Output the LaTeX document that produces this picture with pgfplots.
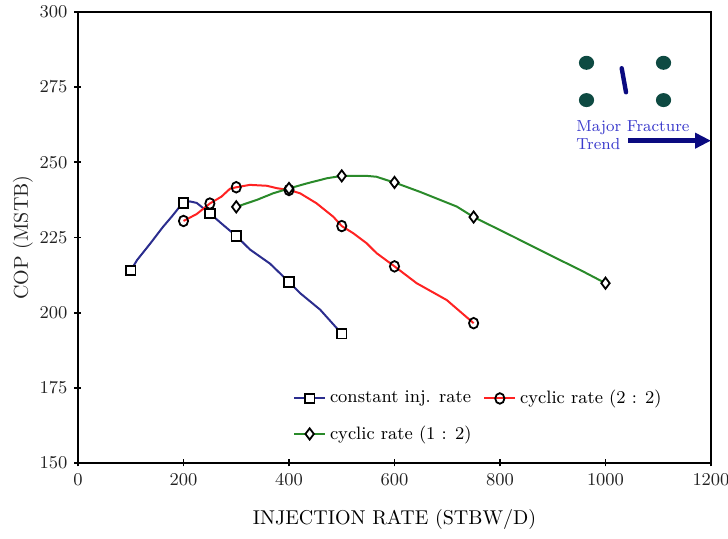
\documentclass[border=0pt]{standalone}
\usepackage{pgfplots}
\pgfplotsset{compat=1.18}
\usetikzlibrary{arrows.meta}

\definecolor{seriesblue}{HTML}{2B2D8E}
\definecolor{seriesred}{HTML}{FF2222}
\definecolor{seriesgreen}{HTML}{2A8A2A}
\definecolor{welldot}{HTML}{0E4A42}
\definecolor{trendnavy}{HTML}{0A0A80}
\definecolor{trendtext}{HTML}{3A3ACC}
\definecolor{ticktext}{HTML}{222222}

\begin{document}
\begin{tikzpicture}
\begin{axis}[
  name=ax,
  scale only axis,
  width=316.5pt, height=225.5pt,
  xmin=0, xmax=1200, ymin=150, ymax=300,
  xtick={0,200,...,1200},
  ytick={150,175,...,300},
  x tick label style={/pgf/number format/1000 sep={}},
  tick align=center,
  major tick length=3.5pt,
  xtick pos=bottom, ytick pos=left,
  axis line style={line width=1pt},
  every tick/.style={black, line width=0.9pt},
  tick label style={font=\small, text=ticktext},
  xlabel={INJECTION RATE (STBW/D)},
  ylabel={COP (MSTB)},
  xlabel style={at={(axis description cs:0.5,-0.126)}, anchor=center, font=\normalsize},
  ylabel style={at={(axis description cs:-0.087,0.5)}, anchor=center, font=\normalsize, text=ticktext},
  clip=false,
  legend columns=2,
  legend style={
    at={(rel axis cs:0.33,0.18)}, anchor=north west,
    draw=none, fill=none, font=\small,
    /tikz/every even column/.append style={column sep=4pt},
    row sep=5.5pt,
  },
  legend cell align=left,
  legend image code/.code={
    \draw[mark indices={2}, #1]
      plot coordinates {(0cm,0cm) (0.27cm,0cm) (0.54cm,0cm)};
  },
  every axis plot/.append style={line width=1pt},
]

% constant injection rate
\addplot[color=seriesblue, mark=square*,
  mark options={fill=white, draw=black, line width=0.9pt, solid},
  mark size=2.4pt, mark indices={1,7,10,12,15,18}]
coordinates {
  (100,214.0) (112,217.5) (137,223.0) (161,228.5) (178,232.0) (193,235.3)
  (200,236.5) (212,237.0) (225,236.5) (250,233.0) (275,229.2) (300,225.5)
  (326,221.0) (364,216.3) (400,210.2) (421,206.5) (459,201.0) (500,193.0)
};
\addlegendentry{constant inj. rate}

% cyclic rate 2:2
\addplot[color=seriesred, mark=o,
  mark options={fill=white, draw=black, line width=0.9pt, solid, yscale=1.15},
  mark size=2.3pt, mark indices={1,3,6,10,14,18,21}]
coordinates {
  (200,230.5) (225,232.8) (250,236.3) (272,238.6) (288,241.2) (300,241.7)
  (326,242.5) (358,242.2) (377,241.4) (400,240.8) (421,239.7) (452,236.4)
  (484,231.9) (500,228.8) (522,226.4) (547,223.1) (566,219.8) (600,215.4)
  (642,209.8) (699,204.2) (750,196.5)
};
\addlegendentry{cyclic rate (2 : 2)}

% cyclic rate 1:2
\addplot[color=seriesgreen, mark=diamond*,
  mark options={fill=white, draw=black, line width=0.9pt, solid},
  mark size=2.8pt, mark indices={1,4,7,11,14,18}]
coordinates {
  (300,235.2) (339,237.5) (370,239.7) (400,241.3) (434,243.0) (472,244.7)
  (500,245.5) (547,245.5) (566,245.2) (585,244.1) (600,243.3) (648,240.2)
  (718,235.3) (750,231.8) (825,225.3) (901,218.6) (952,214.2) (1000,209.8)
};
\addlegendentry{cyclic rate (1 : 2)}

% well pattern sketch with fracture trend
\fill[welldot] (axis cs:964,283.1) ellipse[x radius=3.8pt, y radius=3.5pt];
\fill[welldot] (axis cs:1110,283.1) ellipse[x radius=3.8pt, y radius=3.5pt];
\fill[welldot] (axis cs:964,270.7) ellipse[x radius=3.8pt, y radius=3.5pt];
\fill[welldot] (axis cs:1110,270.7) ellipse[x radius=3.8pt, y radius=3.5pt];
\draw[trendnavy, line width=2.2pt, line cap=round]
  (axis cs:1030.7,281.3) -- (axis cs:1038.9,273.3);
\node[anchor=base west, inner sep=0pt, text=trendtext, font=\footnotesize]
  at (axis cs:944,260.2) {Major Fracture};
\node[anchor=base west, inner sep=0pt, text=trendtext, font=\footnotesize]
  at (axis cs:944,254.1) {Trend};
\draw[trendnavy, line width=2.6pt, -{Triangle[length=8pt,width=7.5pt]}]
  (axis cs:1043,257.2) -- (axis cs:1200,257.2);
\end{axis}
\pgfresetboundingbox
\path[use as bounding box]
  ([xshift=-39pt,yshift=-38pt]ax.south west) rectangle
  ([xshift=8.5pt,yshift=6pt]ax.north east);
\end{tikzpicture}
\end{document}
